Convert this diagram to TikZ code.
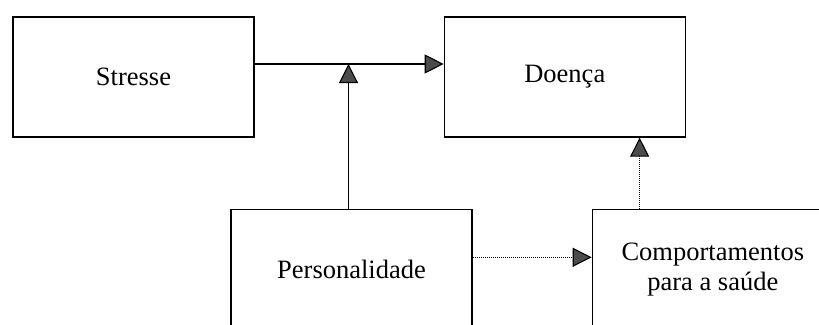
\documentclass[tikz,border=0pt]{standalone}
\usepackage{fontspec}
\setmainfont{Liberation Serif}
\usepackage{tikz}
\usetikzlibrary{arrows.meta, positioning}

\begin{document}
\begin{tikzpicture}[
    x=1pt, y=1pt,
    font=\fontsize{26.5}{30}\selectfont,
    box/.style={draw, line width=1.3pt, minimum width=241pt, minimum height=120pt, inner sep=0pt, align=center},
    ar/.style={-{Triangle[length=19pt, width=19pt, fill=black!70]}, line width=1.1pt},
    dar/.style={ar, dash pattern=on 1pt off 1pt}
  ]
    \path[use as bounding box, clip] (0,0) rectangle (819,-324);
    \node[box] (stress) at (133.5,-77) {Stresse};
    \node[box, right=189pt of stress] (doenca) {Doença};
    \node[box, below=71pt of stress, xshift=218pt] (pers) {Personalidade};
    \node[box, right=119pt of pers] (comp) {Comportamentos\\para a saúde};
    \coordinate (m) at ([yshift=13pt]stress.east);
    \coordinate (cn) at ([xshift=48pt]comp.north west);
    \draw[ar] (m) -- (m -| doenca.west);
    \draw[ar] ([xshift=-3pt]pers.north) -- ([xshift=-3pt]pers.north |- m);
    \draw[dar] ([yshift=12pt]pers.east) -- ([yshift=12pt]pers.east -| comp.west);
    \draw[dar] (cn) -- (cn |- doenca.south);
  \end{tikzpicture}
\end{document}
